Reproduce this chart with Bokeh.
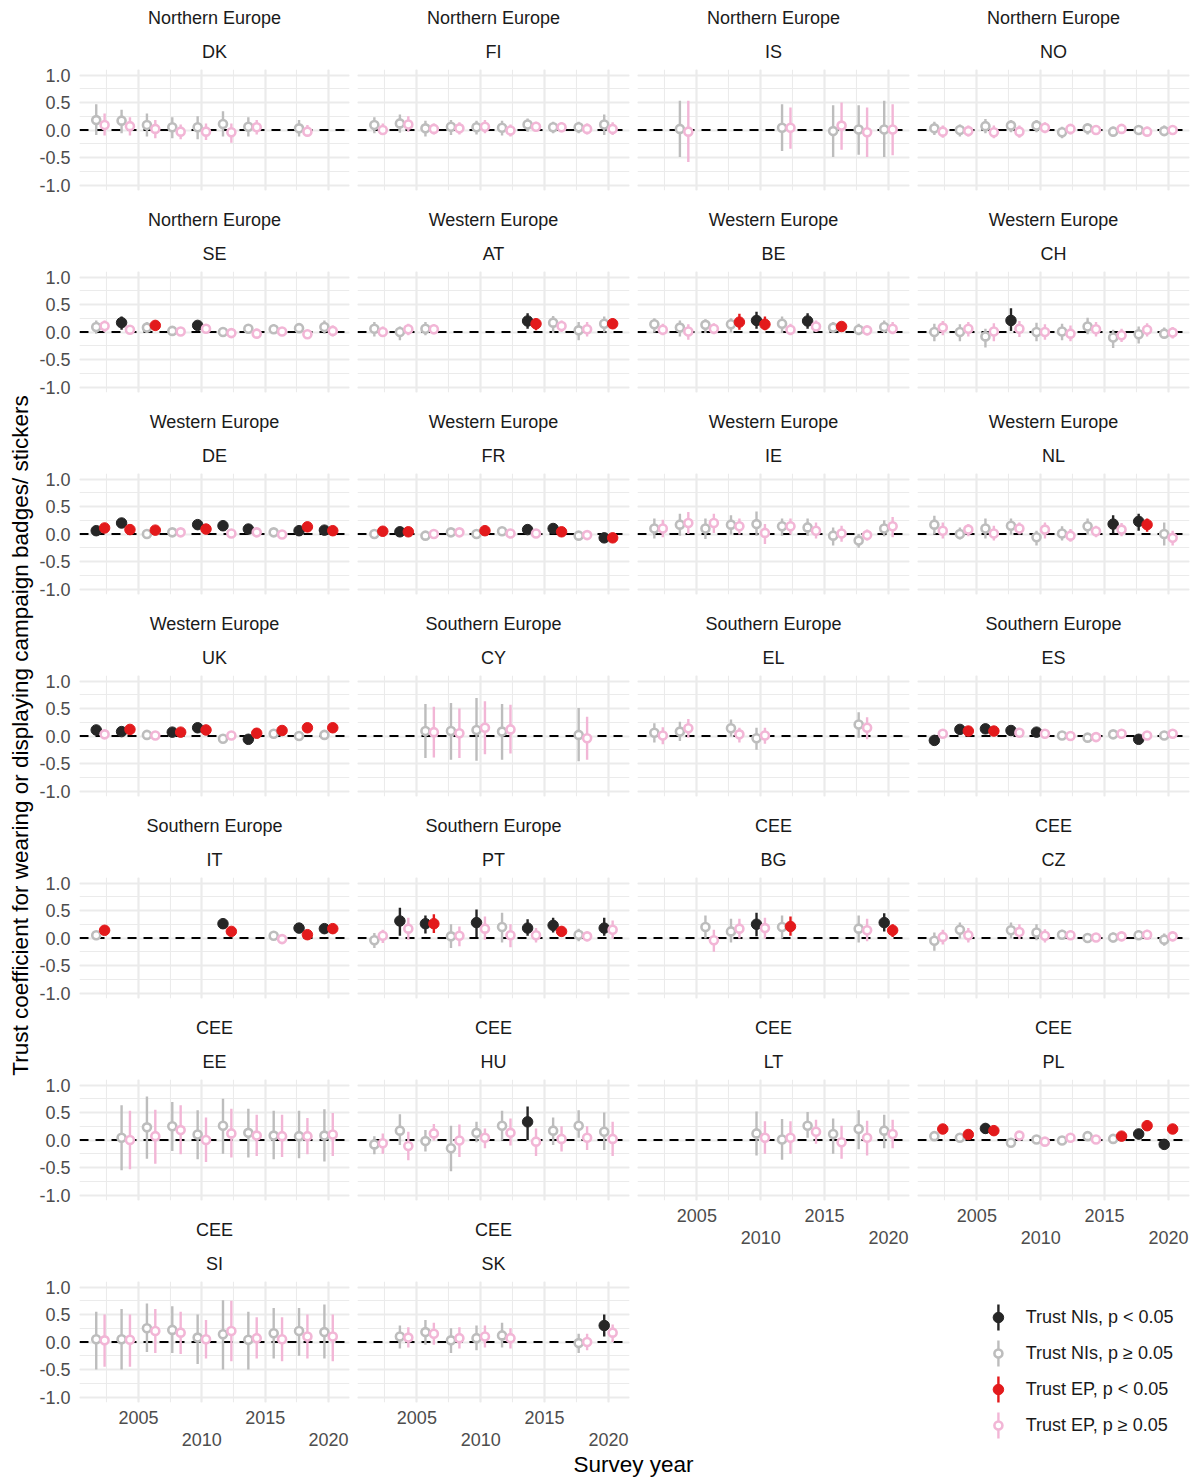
import math
from bokeh.plotting import figure
from bokeh.models import (Range1d, FixedTicker, Grid, LinearAxis, Title, Label, Span,
                          ColumnDataSource, PrintfTickFormatter)
from bokeh.layouts import row, column
from bokeh.embed import file_html
from bokeh.resources import INLINE
from bokeh.core.properties import value

N = None
YEARS = [2002, 2004, 2006, 2008, 2010, 2012, 2014, 2016, 2018, 2020]
COUNTRIES = ["DK", "FI", "IS", "NO", "SE", "AT", "BE", "CH", "DE", "FR", "IE", "NL",
             "UK", "CY", "EL", "ES", "IT", "PT", "BG", "CZ", "EE", "HU", "LT", "PL", "SI", "SK"]
REGIONS = (["Northern Europe"] * 5 + ["Western Europe"] * 8 +
           ["Southern Europe"] * 5 + ["CEE"] * 8)
X_TICKS_TOP = [2005, 2015]
X_TICKS_BOTTOM = [2010, 2020]
Y_TICKS = [-1, -0.5, 0, 0.5, 1]
LEGEND_LABELS = ["Trust NIs, p < 0.05", "Trust NIs, p \u2265 0.05",
                 "Trust EP, p < 0.05", "Trust EP, p \u2265 0.05"]

# (estimate, ci_low, ci_high, significant) per survey year; None = no data
DK_NI = [(0.18,-0.09,0.47,0),(0.17,-0.06,0.37,0),(0.09,-0.12,0.30,0),(0.05,-0.15,0.23,0),(0.05,-0.17,0.25,0),(0.11,-0.12,0.34,0),(0.06,-0.12,0.23,0),N,(0.03,-0.12,0.18,0),N]
DK_EP = [(0.09,-0.10,0.30,0),(0.07,-0.10,0.23,0),(0.02,-0.15,0.18,0),(-0.03,-0.17,0.10,0),(-0.03,-0.18,0.12,0),(-0.04,-0.23,0.12,0),(0.05,-0.08,0.18,0),N,(-0.03,-0.12,0.09,0),N]
FI_NI = [(0.09,-0.06,0.23,0),(0.12,-0.05,0.28,0),(0.03,-0.12,0.17,0),(0.06,-0.09,0.18,0),(0.05,-0.08,0.17,0),(0.04,-0.10,0.17,0),(0.10,-0.03,0.21,0),(0.05,-0.06,0.15,0),(0.05,-0.06,0.15,0),(0.10,-0.09,0.28,0)]
FI_EP = [(0.00,-0.09,0.12,0),(0.10,-0.03,0.25,0),(0.02,-0.08,0.12,0),(0.03,-0.08,0.14,0),(0.06,-0.06,0.18,0),(-0.01,-0.12,0.10,0),(0.06,-0.03,0.15,0),(0.05,-0.04,0.14,0),(0.02,-0.08,0.12,0),(0.02,-0.09,0.14,0)]
IS_NI = [N,(0.02,-0.49,0.53,0),N,N,N,(0.04,-0.38,0.47,0),N,(-0.02,-0.49,0.45,0),(0.01,-0.45,0.45,0),(0.01,-0.49,0.53,0)]
IS_EP = [N,(-0.03,-0.58,0.53,0),N,N,N,(0.04,-0.34,0.41,0),N,(0.08,-0.36,0.50,0),(-0.04,-0.49,0.41,0),(0.01,-0.46,0.47,0)]
NO_NI = [(0.03,-0.09,0.15,0),(0.00,-0.12,0.10,0),(0.07,-0.06,0.20,0),(0.08,-0.04,0.18,0),(0.08,-0.04,0.18,0),(-0.04,-0.15,0.06,0),(0.03,-0.08,0.12,0),(-0.03,-0.12,0.06,0),(0.00,-0.09,0.09,0),(-0.02,-0.09,0.08,0)]
NO_EP = [(-0.03,-0.14,0.08,0),(-0.02,-0.12,0.08,0),(-0.04,-0.15,0.08,0),(-0.03,-0.14,0.08,0),(0.04,-0.06,0.14,0),(0.02,-0.08,0.10,0),(0.00,-0.08,0.09,0),(0.02,-0.06,0.09,0),(-0.03,-0.10,0.06,0),(0.00,-0.08,0.09,0)]
SE_NI = [(0.09,-0.03,0.21,0),(0.17,0.04,0.28,1),(0.08,-0.02,0.18,0),(0.02,-0.06,0.10,0),(0.12,0.06,0.20,1),(0.00,-0.08,0.08,0),(0.06,-0.03,0.14,0),(0.05,-0.03,0.14,0),(0.07,-0.02,0.16,0),(0.09,-0.03,0.21,0)]
SE_EP = [(0.11,0.00,0.21,0),(0.04,-0.04,0.12,0),(0.12,0.03,0.21,1),(0.01,-0.06,0.09,0),(0.06,-0.03,0.14,0),(-0.02,-0.09,0.06,0),(-0.03,-0.12,0.06,0),(0.01,-0.06,0.09,0),(-0.04,-0.12,0.04,0),(0.02,-0.08,0.12,0)]
AT_NI = [(0.06,-0.08,0.18,0),(0.00,-0.15,0.10,0),(0.06,-0.06,0.18,0),N,N,N,(0.20,0.06,0.34,1),(0.17,-0.02,0.29,0),(0.03,-0.15,0.18,0),(0.15,-0.01,0.28,0)]
AT_EP = [(0.00,-0.09,0.10,0),(0.05,-0.06,0.15,0),(0.05,-0.04,0.14,0),N,N,N,(0.15,0.03,0.25,1),(0.11,0.00,0.21,0),(0.05,-0.08,0.18,0),(0.15,0.06,0.25,1)]
BE_NI = [(0.14,-0.01,0.25,0),(0.08,-0.08,0.21,0),(0.13,-0.02,0.23,0),(0.14,-0.01,0.25,0),(0.21,0.06,0.37,1),(0.15,-0.02,0.28,0),(0.20,0.06,0.34,1),(0.08,-0.02,0.18,0),(0.04,-0.06,0.15,0),(0.09,-0.02,0.21,0)]
BE_EP = [(0.04,-0.06,0.15,0),(0.01,-0.14,0.14,0),(0.06,-0.04,0.16,0),(0.18,0.04,0.33,1),(0.14,0.03,0.28,1),(0.04,-0.06,0.15,0),(0.10,0.00,0.21,0),(0.10,0.03,0.18,1),(0.03,-0.06,0.12,0),(0.06,-0.04,0.18,0)]
CH_NI = [(0.00,-0.17,0.15,0),(0.00,-0.17,0.14,0),(-0.08,-0.28,0.06,0),(0.21,0.02,0.43,1),(0.00,-0.17,0.17,0),(0.01,-0.15,0.15,0),(0.10,-0.04,0.26,0),(-0.10,-0.29,0.04,0),(-0.04,-0.21,0.10,0),(-0.03,-0.12,0.08,0)]
CH_EP = [(0.08,-0.06,0.20,0),(0.06,-0.08,0.18,0),(0.01,-0.17,0.16,0),(0.06,-0.09,0.20,0),(0.00,-0.14,0.14,0),(-0.03,-0.17,0.12,0),(0.05,-0.08,0.18,0),(-0.06,-0.18,0.06,0),(0.04,-0.08,0.16,0),(-0.01,-0.12,0.09,0)]
DE_NI = [(0.06,0.00,0.12,1),(0.20,0.13,0.27,1),(0.00,-0.07,0.06,0),(0.03,-0.04,0.10,0),(0.17,0.10,0.24,1),(0.15,0.06,0.24,1),(0.09,0.02,0.16,1),(0.03,-0.04,0.10,0),(0.06,0.01,0.13,1),(0.07,0.01,0.15,1)]
DE_EP = [(0.11,0.03,0.18,1),(0.08,0.01,0.15,1),(0.07,0.01,0.15,1),(0.03,-0.04,0.10,0),(0.09,0.02,0.16,1),(0.01,-0.06,0.08,0),(0.03,-0.04,0.10,0),(-0.01,-0.08,0.06,0),(0.13,0.04,0.21,1),(0.06,0.01,0.14,1)]
FR_NI = [(0.00,-0.07,0.06,0),(0.04,0.01,0.12,1),(-0.03,-0.10,0.04,0),(0.03,-0.04,0.10,0),(0.00,-0.07,0.07,0),(0.05,-0.03,0.12,0),(0.08,0.01,0.15,1),(0.10,0.02,0.18,1),(-0.03,-0.10,0.04,0),(-0.07,-0.15,-0.01,1)]
FR_EP = [(0.05,0.01,0.12,1),(0.04,0.01,0.12,1),(0.00,-0.07,0.07,0),(0.03,-0.04,0.10,0),(0.06,0.01,0.14,1),(0.01,-0.06,0.09,0),(0.01,-0.06,0.08,0),(0.04,0.01,0.12,1),(-0.02,-0.09,0.06,0),(-0.07,-0.15,-0.01,1)]
IE_NI = [(0.10,-0.08,0.28,0),(0.17,-0.03,0.37,0),(0.10,-0.09,0.28,0),(0.17,-0.01,0.34,0),(0.18,-0.03,0.41,0),(0.14,-0.03,0.28,0),(0.12,-0.03,0.28,0),(-0.03,-0.21,0.12,0),(-0.12,-0.25,0.00,0),(0.10,-0.04,0.25,0)]
IE_EP = [(0.10,-0.06,0.26,0),(0.20,0.00,0.40,0),(0.20,0.02,0.37,0),(0.14,-0.01,0.28,0),(0.02,-0.18,0.18,0),(0.14,-0.01,0.28,0),(0.06,-0.08,0.21,0),(0.01,-0.14,0.15,0),(-0.02,-0.12,0.08,0),(0.14,-0.06,0.31,0)]
NL_NI = [(0.17,-0.01,0.33,0),(0.00,-0.10,0.12,0),(0.10,-0.08,0.28,0),(0.15,-0.01,0.28,0),(-0.06,-0.21,0.06,0),(0.01,-0.12,0.14,0),(0.14,-0.01,0.28,0),(0.18,0.01,0.34,1),(0.23,0.06,0.37,1),(0.00,-0.21,0.21,0)]
NL_EP = [(0.06,-0.08,0.21,0),(0.08,-0.04,0.18,0),(0.01,-0.12,0.15,0),(0.10,-0.01,0.21,0),(0.08,-0.08,0.21,0),(-0.03,-0.14,0.09,0),(0.05,-0.06,0.15,0),(0.08,-0.04,0.20,0),(0.17,0.04,0.28,1),(-0.07,-0.21,0.06,0)]
UK_NI = [(0.11,0.03,0.18,1),(0.08,0.01,0.15,1),(0.02,-0.06,0.09,0),(0.07,0.01,0.15,1),(0.15,0.08,0.23,1),(-0.05,-0.12,0.03,0),(-0.06,-0.14,-0.01,1),(0.04,-0.03,0.12,0),(0.00,-0.08,0.08,0),(0.02,-0.06,0.09,0)]
UK_EP = [(0.03,-0.04,0.10,0),(0.12,0.04,0.20,1),(0.01,-0.06,0.08,0),(0.07,0.01,0.14,1),(0.11,0.03,0.18,1),(0.01,-0.06,0.09,0),(0.05,0.01,0.14,1),(0.10,0.03,0.18,1),(0.15,0.08,0.23,1),(0.15,0.08,0.23,1)]
CY_NI = [N,N,(0.09,-0.40,0.58,0),(0.09,-0.43,0.60,0),(0.11,-0.45,0.69,0),(0.08,-0.43,0.58,0),N,N,(0.02,-0.46,0.51,0),N]
CY_EP = [N,N,(0.07,-0.39,0.53,0),(0.05,-0.40,0.50,0),(0.15,-0.33,0.63,0),(0.12,-0.32,0.57,0),N,N,(-0.04,-0.43,0.35,0),N]
EL_NI = [(0.06,-0.12,0.23,0),(0.08,-0.09,0.26,0),N,(0.14,-0.01,0.30,0),(-0.04,-0.25,0.15,0),N,N,N,(0.21,-0.03,0.43,0),N]
EL_EP = [(0.01,-0.15,0.16,0),(0.14,-0.03,0.31,0),N,(0.03,-0.12,0.15,0),(0.01,-0.14,0.15,0),N,N,N,(0.15,-0.06,0.34,0),N]
ES_NI = [(-0.08,-0.15,-0.01,1),(0.12,0.04,0.20,1),(0.13,0.05,0.21,1),(0.10,0.02,0.18,1),(0.07,0.01,0.15,1),(0.01,-0.06,0.08,0),(-0.03,-0.10,0.04,0),(0.03,-0.04,0.10,0),(-0.06,-0.14,-0.01,1),(0.01,-0.06,0.09,0)]
ES_EP = [(0.04,-0.04,0.12,0),(0.09,0.02,0.16,1),(0.09,0.02,0.16,1),(0.06,-0.02,0.14,0),(0.04,-0.03,0.12,0),(0.00,-0.07,0.07,0),(-0.02,-0.09,0.06,0),(0.04,-0.03,0.12,0),(0.01,-0.06,0.09,0),(0.04,-0.03,0.12,0)]
IT_NI = [(0.05,-0.03,0.12,0),N,N,N,N,(0.26,0.17,0.34,1),N,(0.04,-0.03,0.12,0),(0.18,0.10,0.26,1),(0.17,0.08,0.25,1)]
IT_EP = [(0.14,0.06,0.21,1),N,N,N,N,(0.12,0.04,0.20,1),N,(-0.02,-0.09,0.06,0),(0.06,0.01,0.14,1),(0.17,0.08,0.25,1)]
PT_NI = [(-0.04,-0.18,0.09,0),(0.31,0.04,0.55,1),(0.26,0.08,0.41,1),(0.03,-0.18,0.25,0),(0.28,0.02,0.52,1),(0.20,-0.08,0.46,0),(0.18,0.04,0.34,1),(0.23,0.10,0.37,1),(0.06,-0.06,0.17,0),(0.18,0.04,0.37,1)]
PT_EP = [(0.04,-0.09,0.15,0),(0.17,-0.03,0.37,0),(0.26,0.09,0.43,1),(0.04,-0.15,0.21,0),(0.17,-0.03,0.39,0),(0.05,-0.17,0.25,0),(0.05,-0.08,0.18,0),(0.12,0.03,0.21,1),(0.03,-0.06,0.12,0),(0.15,-0.01,0.32,0)]
BG_NI = [N,N,(0.20,-0.01,0.41,0),(0.12,-0.08,0.35,0),(0.25,0.03,0.46,1),(0.20,-0.01,0.41,0),N,N,(0.17,-0.08,0.41,0),(0.28,0.12,0.45,1)]
BG_EP = [N,N,(-0.04,-0.25,0.15,0),(0.17,-0.01,0.35,0),(0.18,-0.01,0.37,0),(0.21,0.04,0.39,1),N,N,(0.14,-0.06,0.35,0),(0.14,0.02,0.25,1)]
CZ_NI = [(-0.05,-0.23,0.10,0),(0.15,-0.01,0.28,0),N,(0.14,-0.01,0.28,0),(0.10,-0.04,0.25,0),(0.06,-0.02,0.15,0),(0.00,-0.08,0.08,0),(0.01,-0.08,0.10,0),(0.05,-0.03,0.14,0),(-0.03,-0.14,0.08,0)]
CZ_EP = [(0.02,-0.12,0.15,0),(0.05,-0.08,0.18,0),N,(0.11,-0.02,0.25,0),(0.04,-0.08,0.16,0),(0.05,-0.03,0.14,0),(0.01,-0.06,0.09,0),(0.03,-0.06,0.12,0),(0.06,-0.03,0.15,0),(0.03,-0.06,0.12,0)]
EE_NI = [N,(0.04,-0.55,0.63,0),(0.23,-0.34,0.79,0),(0.25,-0.20,0.69,0),(0.10,-0.35,0.54,0),(0.26,-0.25,0.75,0),(0.13,-0.32,0.57,0),(0.08,-0.35,0.53,0),(0.07,-0.33,0.53,0),(0.08,-0.39,0.56,0)]
EE_EP = [N,(0.00,-0.53,0.53,0),(0.07,-0.43,0.55,0),(0.18,-0.26,0.63,0),(0.00,-0.40,0.41,0),(0.12,-0.32,0.57,0),(0.08,-0.29,0.46,0),(0.07,-0.31,0.46,0),(0.07,-0.26,0.40,0),(0.10,-0.29,0.49,0)]
HU_NI = [(-0.08,-0.26,0.07,0),(0.17,-0.09,0.47,0),(-0.02,-0.21,0.18,0),(-0.15,-0.57,0.26,0),(0.13,-0.04,0.33,0),(0.26,-0.01,0.53,0),(0.33,0.00,0.61,1),(0.17,-0.09,0.41,0),(0.26,0.04,0.54,0),(0.15,-0.18,0.50,0)]
HU_EP = [(-0.06,-0.25,0.12,0),(-0.11,-0.37,0.15,0),(0.12,-0.01,0.29,0),(-0.01,-0.31,0.28,0),(0.04,-0.15,0.21,0),(0.13,-0.10,0.39,0),(-0.03,-0.29,0.21,0),(0.02,-0.21,0.25,0),(0.04,-0.18,0.25,0),(0.02,-0.29,0.33,0)]
LT_NI = [N,N,N,N,(0.12,-0.28,0.52,0),(0.01,-0.36,0.38,0),(0.26,0.04,0.51,0),(0.11,-0.25,0.39,0),(0.20,-0.17,0.54,0),(0.17,-0.15,0.46,0)]
LT_EP = [N,N,N,N,(0.04,-0.25,0.34,0),(0.04,-0.25,0.34,0),(0.15,-0.07,0.37,0),(-0.04,-0.34,0.26,0),(0.04,-0.28,0.35,0),(0.11,-0.15,0.37,0)]
PL_NI = [(0.07,-0.01,0.12,0),(0.04,-0.03,0.12,0),(0.21,0.12,0.30,1),(-0.05,-0.12,0.03,0),(0.01,-0.06,0.08,0),(-0.01,-0.08,0.06,0),(0.07,-0.01,0.15,0),(0.02,-0.06,0.09,0),(0.11,0.01,0.20,1),(-0.08,-0.15,-0.01,1)]
PL_EP = [(0.20,0.12,0.28,1),(0.10,0.02,0.18,1),(0.17,0.09,0.26,1),(0.08,-0.01,0.16,0),(-0.03,-0.10,0.04,0),(0.04,-0.03,0.12,0),(0.01,-0.06,0.09,0),(0.07,0.01,0.15,1),(0.26,0.18,0.35,1),(0.20,0.12,0.28,1)]
SI_NI = [(0.05,-0.50,0.55,0),(0.05,-0.50,0.60,0),(0.25,-0.18,0.70,0),(0.22,-0.20,0.65,0),(0.08,-0.40,0.50,0),(0.14,-0.50,0.76,0),(0.04,-0.50,0.55,0),(0.16,-0.30,0.62,0),(0.20,-0.25,0.62,0),(0.18,-0.30,0.68,0)]
SI_EP = [(0.03,-0.45,0.50,0),(0.04,-0.45,0.50,0),(0.20,-0.20,0.60,0),(0.17,-0.22,0.55,0),(0.05,-0.30,0.40,0),(0.20,-0.35,0.75,0),(0.07,-0.30,0.45,0),(0.05,-0.35,0.45,0),(0.10,-0.30,0.50,0),(0.10,-0.35,0.50,0)]
SK_NI = [N,(0.10,-0.12,0.30,0),(0.18,-0.05,0.40,0),(0.03,-0.20,0.25,0),(0.07,-0.15,0.30,0),(0.12,-0.10,0.35,0),N,N,(-0.02,-0.20,0.15,0),(0.30,0.10,0.50,1)]
SK_EP = [N,(0.08,-0.10,0.27,0),(0.15,-0.05,0.35,0),(0.07,-0.12,0.27,0),(0.10,-0.10,0.30,0),(0.07,-0.12,0.25,0),N,N,(0.00,-0.15,0.15,0),(0.17,0.00,0.32,0)]

SERIES = {c: (globals()[c + "_NI"], globals()[c + "_EP"]) for c in COUNTRIES}

# ---------------- styling ----------------
FONT = "Liberation Sans"
NI_SIG, NI_NS = "#262626", "#BDBDBD"
EP_SIG, EP_NS = "#E31A1C", "#F2B6D6"
GRID = "#EBEBEB"
DODGE = 0.33
X_RANGE = (2000.35, 2021.65)
Y_RANGE = (-1.1, 1.1)
FRAME_W, FRAME_H = 272, 121
TOP = 69
XAXIS_BOTTOM = 50


def style_axis(ax, standoff):
    ax.axis_line_color = None
    ax.major_tick_line_color = None
    ax.minor_tick_line_color = None
    ax.major_tick_in = 0
    ax.major_tick_out = 0
    ax.minor_tick_in = 0
    ax.minor_tick_out = 0
    ax.major_label_text_font = FONT
    ax.major_label_text_font_size = "18px"
    ax.major_label_text_color = "#4D4D4D"
    ax.major_label_standoff = standoff


def add_series(p, vals, sig_col, ns_col, offset):
    xs, ys, lo, hi, lc, fc, sz, lw = [], [], [], [], [], [], [], []
    for yr, v in zip(YEARS, vals):
        if v is None:
            continue
        est, l, h, s = v
        xs.append(yr + offset)
        ys.append(est)
        lo.append(l)
        hi.append(h)
        if s:
            lc.append(sig_col); fc.append(sig_col); sz.append(10.5); lw.append(1.0)
        else:
            lc.append(ns_col); fc.append("white"); sz.append(8.0); lw.append(2.6)
    src = ColumnDataSource(dict(x=xs, y=ys, lo=lo, hi=hi, lc=lc, fc=fc, sz=sz, lw=lw))
    p.segment(x0="x", y0="lo", x1="x", y1="hi", source=src, line_color="lc", line_width=2.4)
    p.scatter(x="x", y="y", source=src, size="sz", fill_color="fc", line_color="lc",
              line_width="lw")


def make_panel(idx):
    c = COUNTRIES[idx]
    reg = REGIONS[idx]
    col = idx % 4
    has_x = idx + 4 >= len(COUNTRIES)
    has_y = col == 0
    left = 41 if has_y else 4
    right = 3 if col == 3 else 4
    bottom = XAXIS_BOTTOM if has_x else 12
    p = figure(width=left + FRAME_W + right, height=TOP + FRAME_H + bottom,
               x_range=Range1d(*X_RANGE), y_range=Range1d(*Y_RANGE),
               x_axis_location=None, y_axis_location=None, title=None, tools="",
               output_backend="svg", toolbar_location=None,
               min_border_left=left, min_border_right=right,
               min_border_top=TOP, min_border_bottom=bottom,
               outline_line_color=None, background_fill_color="white",
               border_fill_color="white")
    p.add_layout(Grid(dimension=0, ticker=FixedTicker(ticks=[2005, 2010, 2015, 2020],
                                                      minor_ticks=[2002.5, 2007.5, 2012.5, 2017.5]),
                      grid_line_color=GRID, grid_line_width=2.2,
                      minor_grid_line_color=GRID, minor_grid_line_width=1.1))
    p.add_layout(Grid(dimension=1, ticker=FixedTicker(ticks=Y_TICKS,
                                                      minor_ticks=[-0.75, -0.25, 0.25, 0.75]),
                      grid_line_color=GRID, grid_line_width=2.2,
                      minor_grid_line_color=GRID, minor_grid_line_width=1.1))
    p.add_layout(Span(location=0, dimension="width", line_color="black", line_width=2.2,
                      line_dash="9 7", level="underlay"))
    ni, ep = SERIES[c]
    add_series(p, ni, NI_SIG, NI_NS, -DODGE)
    add_series(p, ep, EP_SIG, EP_NS, DODGE)
    if has_y:
        ya = LinearAxis(ticker=FixedTicker(ticks=Y_TICKS),
                        formatter=PrintfTickFormatter(format="%.1f"))
        style_axis(ya, 9)
        p.add_layout(ya, "left")
    if has_x:
        xa1 = LinearAxis(ticker=FixedTicker(ticks=X_TICKS_TOP),
                         formatter=PrintfTickFormatter(format="%d"))
        style_axis(xa1, 8)
        p.add_layout(xa1, "below")
        xa2 = LinearAxis(ticker=FixedTicker(ticks=X_TICKS_BOTTOM),
                         formatter=PrintfTickFormatter(format="%d"))
        style_axis(xa2, 6)
        p.add_layout(xa2, "below")
    p.add_layout(Title(text=c, align="center", text_font=FONT, text_font_size="18px",
                       text_font_style="normal", text_color="#1A1A1A", standoff=15), "above")
    p.add_layout(Title(text=reg, align="center", text_font=FONT, text_font_size="18px",
                       text_font_style="normal", text_color="#1A1A1A", standoff=10), "above")
    return p


def blank(width, height, xr, yr):
    f = figure(width=width, height=height, x_range=Range1d(*xr), y_range=Range1d(*yr),
               x_axis_location=None, y_axis_location=None, title=None, tools="",
               output_backend="svg", toolbar_location=None, min_border=0,
               outline_line_color=None, background_fill_color="white",
               border_fill_color="white")
    f.xgrid.visible = False
    f.ygrid.visible = False
    return f


cols = [[], [], [], []]
for i in range(len(COUNTRIES)):
    cols[i % 4].append(make_panel(i))

TOTAL_H = 6 * 202 + TOP + FRAME_H + XAXIS_BOTTOM  # 1452

# legend panel
leg = blank(279, 202, (0, 279), (3.75, -1.861))
leg_colors = [NI_SIG, NI_NS, EP_SIG, EP_NS]
leg_filled = [True, False, True, False]
for i, (lab, colr, filled) in enumerate(zip(LEGEND_LABELS, leg_colors, leg_filled)):
    leg.segment(x0=[83], y0=[i - 0.36], x1=[83], y1=[i + 0.36], line_color=colr, line_width=2.4)
    if filled:
        leg.scatter(x=[83], y=[i], size=10.5, fill_color=colr, line_color=colr, line_width=1)
    else:
        leg.scatter(x=[83], y=[i], size=8, fill_color="white", line_color=colr, line_width=2.6)
    leg.text(x=[111], y=[i], text=[lab], text_font=value(FONT), text_font_size="18px",
             text_color="#1A1A1A", text_baseline="middle", text_align="left")
cols[3].append(leg)

ylab = blank(36, TOTAL_H, (0, 36), (TOTAL_H, 0))
ylab.add_layout(Label(x=20, y=735, text="Trust coefficient for wearing or displaying campaign badges/ stickers",
                      angle=math.pi / 2, text_align="center", text_baseline="middle",
                      text_font=FONT, text_font_size="22.5px", text_color="black"))
xlab = blank(1192, 1477 - TOTAL_H, (0, 1192), (1477 - TOTAL_H, 0))
xlab.add_layout(Label(x=633, y=12, text="Survey year", text_align="center",
                      text_baseline="middle", text_font=FONT, text_font_size="22.5px",
                      text_color="black"))

top = row(ylab, column(*cols[0]), column(*cols[1]), column(*cols[2]), column(*cols[3]))
layout = column(top, xlab)

open("out.html", "w").write(file_html(layout, INLINE))
